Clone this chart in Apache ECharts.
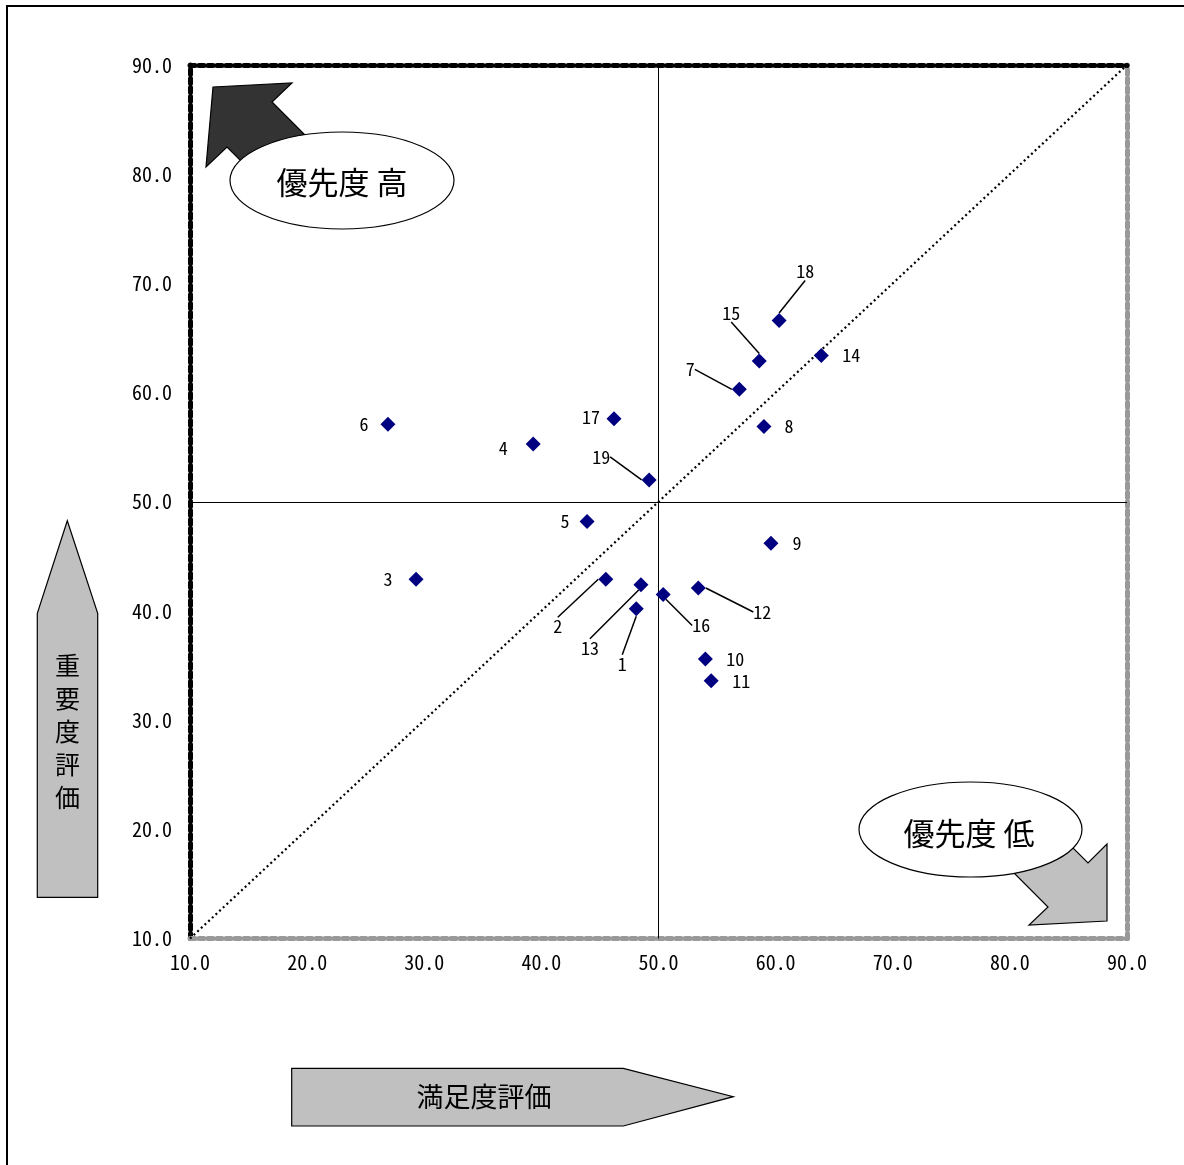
<!DOCTYPE html>
<html>
<head>
<meta charset="utf-8">
<script src="https://cdn.jsdelivr.net/npm/echarts@6/dist/echarts.min.js"></script>
<style>
html,body{margin:0;padding:0;background:#fff;}
#chart{width:1184px;height:1165px;}
</style>
</head>
<body>
<div id="chart"></div>
<script>
// ---- data ----
const itemIds = [1,2,3,4,5,6,7,8,9,10,11,12,13,14,15,16,17,18,19];
const satisfaction = [48.1,45.5,29.3,39.3,43.9,26.9,56.9,59.0,59.6,54.0,54.5,53.4,48.5,63.9,58.6,50.4,46.2,60.3,49.2];
const importance   = [40.2,42.9,42.9,55.3,48.2,57.1,60.3,56.9,46.2,35.6,33.6,42.1,42.4,63.4,62.9,41.5,57.6,66.6,52.0];
const axisMin = 10, axisMax = 90, axisStep = 10;
const xAxisTitle = '満足度評価';
const yAxisTitle = '重要度評価';
const highLabel = '優先度 高';
const lowLabel = '優先度 低';

// ---- label layout (px offsets from the point, leader line flag) ----
const labelOffset = {1:[-14,55,1],2:[-48,47,1],3:[-28,0,0],4:[-30,4,0],5:[-22,0,0],6:[-24,0,0],
  7:[-49,-20,1],8:[25,0,0],9:[26,0,0],10:[30,0,0],11:[30,0,0],12:[64,24,1],13:[-51,63,1],
  14:[30,0,0],15:[-28,-48,1],16:[38,31,1],17:[-23,-2,0],18:[26,-49,1],19:[-48,-23,1]};

const FONT = '"Noto Sans CJK JP", "DejaVu Sans", sans-serif';
const MONO = '"Noto Sans Mono CJK JP", "Noto Sans CJK JP", sans-serif';
const chart = echarts.init(document.getElementById('chart'), null, {renderer:'canvas'});

const points = itemIds.map((id,i)=>({
  name: String(id),
  value: [satisfaction[i], importance[i]],
  labelLine: {show: !!labelOffset[id][2]}
}));

const fmt = v => v.toFixed(1);
const axisCommon = {
  type:'value', min:axisMin, max:axisMax, interval:axisStep,
  splitLine:{show:false}, axisTick:{show:false}
};

const option = {
  animation:false,
  grid:{left:190, top:65, width:937, height:873.5, show:true, borderColor:'#777', borderWidth:1},
  xAxis:[
    Object.assign({}, axisCommon, {position:'bottom',
      axisLine:{show:true, lineStyle:{color:'#999', width:5, type:[5,4]}},
      axisLabel:{formatter:fmt, color:'#000', fontSize:20, fontFamily:MONO, margin:14}}),
    Object.assign({}, axisCommon, {position:'top',
      axisLine:{show:true, lineStyle:{color:'#000', width:5, type:[5,4]}},
      axisLabel:{show:false}})
  ],
  yAxis:[
    Object.assign({}, axisCommon, {position:'left',
      axisLine:{show:true, lineStyle:{color:'#000', width:5, type:[5,4]}},
      axisLabel:{formatter:fmt, color:'#000', fontSize:20, fontFamily:MONO, margin:18}}),
    Object.assign({}, axisCommon, {position:'right',
      axisLine:{show:true, lineStyle:{color:'#999', width:5, type:[5,4]}},
      axisLabel:{show:false}})
  ],
  series:[{
    type:'scatter',
    xAxisIndex:0, yAxisIndex:0,
    symbol:'diamond', symbolSize:15,
    itemStyle:{color:'#000080', opacity:1},
    data:points,
    z:5,
    label:{show:true, position:'inside', formatter:p=>p.name, color:'#000', fontSize:18, fontFamily:MONO},
    labelLine:{show:false, lineStyle:{color:'#000', width:1.5}},
    labelLayout:function(params){
      const id = itemIds[params.dataIndex];
      const o = labelOffset[id];
      return {dx:o[0], dy:o[1]};
    },
    markLine:{
      silent:true, symbol:'none', label:{show:false}, animation:false,
      data:[
        {xAxis:50, lineStyle:{color:'#000', width:1, type:'solid'}},
        {yAxis:50, lineStyle:{color:'#000', width:1, type:'solid'}},
        [{coord:[axisMin,axisMin], lineStyle:{color:'#000', width:2.2, type:[2,3]}},{coord:[axisMax,axisMax]}]
      ]
    }
  }],
  graphic:[
    // outer frame
    {type:'rect', shape:{x:7, y:6, width:1200, height:1200}, style:{fill:'none', stroke:'#000', lineWidth:2}, z:1},
    // dark arrow (high priority)
    {type:'polygon', z:20, shape:{points:[[213,87],[292,83],[272,102],[320,150],[277,197],[227,147],[206,167]]},
      style:{fill:'#333333', stroke:'#000', lineWidth:1.2}},
    {type:'ellipse', z:21, shape:{cx:342, cy:180.5, rx:112, ry:48.5}, style:{fill:'#fff', stroke:'#000', lineWidth:1.2}},
    {type:'text', z:22, style:{text:highLabel, x:342, y:182, align:'center', verticalAlign:'middle', font:'31px '+FONT, fill:'#000'}},
    // gray arrow (low priority)
    {type:'polygon', z:20, shape:{points:[[1107,921],[1029,925],[1048,907],[1000,859],[1040,815],[1088,863],[1107,844]]},
      style:{fill:'#c0c0c0', stroke:'#000', lineWidth:1.2}},
    {type:'ellipse', z:21, shape:{cx:970.5, cy:829.5, rx:111.5, ry:47.5}, style:{fill:'#fff', stroke:'#000', lineWidth:1.2}},
    {type:'text', z:22, style:{text:lowLabel, x:969, y:833, align:'center', verticalAlign:'middle', font:'31px '+FONT, fill:'#000'}},
    // y axis title arrow
    {type:'polygon', z:20, shape:{points:[[67.3,520.7],[97.7,613.3],[97.7,897.3],[37.3,897.3],[37.3,613.3]]},
      style:{fill:'#c0c0c0', stroke:'#000', lineWidth:1.2}},
    {type:'text', z:22, style:{text:yAxisTitle.split('').join('\n'), x:67.5, y:731, align:'center', verticalAlign:'middle', font:'25px '+FONT, lineHeight:33, fill:'#000'}},
    // x axis title arrow
    {type:'polygon', z:20, shape:{points:[[291.7,1068.3],[623.3,1068.3],[733.3,1096.7],[623.3,1126],[291.7,1126]]},
      style:{fill:'#c0c0c0', stroke:'#000', lineWidth:1.2}},
    {type:'text', z:22, style:{text:xAxisTitle, x:484, y:1097, align:'center', verticalAlign:'middle', font:'27px '+FONT, fill:'#000'}}
  ]
};
chart.setOption(option);
</script>
</body>
</html>
